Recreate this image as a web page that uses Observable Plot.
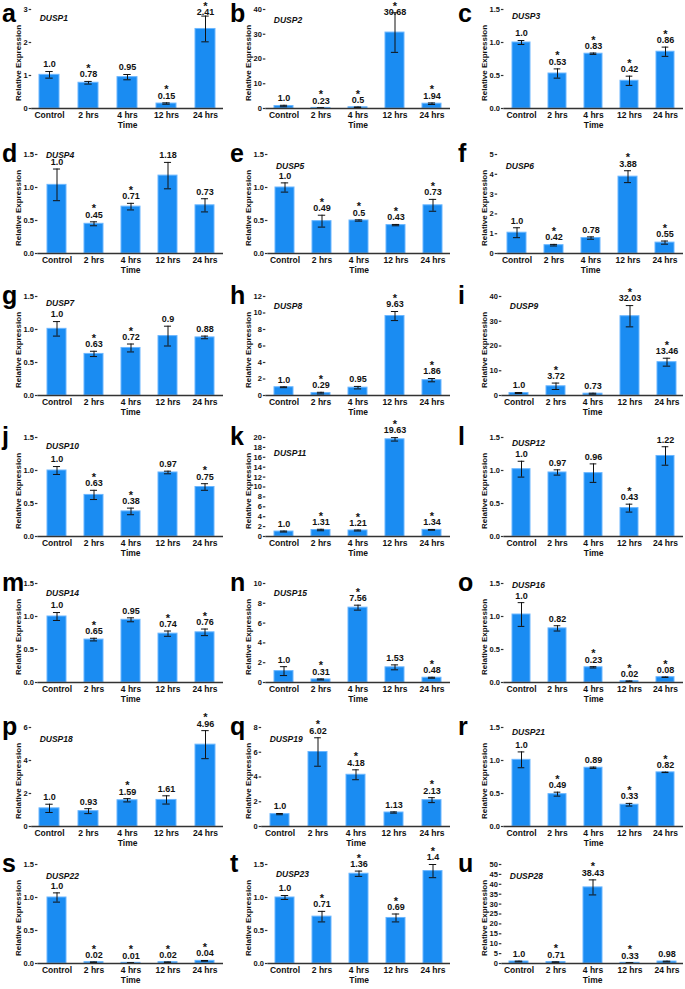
<!DOCTYPE html>
<html>
<head>
<meta charset="utf-8">
<script src="https://cdn.jsdelivr.net/npm/d3@7"></script>
<script src="https://cdn.jsdelivr.net/npm/@observablehq/plot@0.6"></script>
<style>
  html, body { margin: 0; padding: 0; background: #fff; }
  #root { position: relative; width: 685px; height: 989px; overflow: hidden; font-family: "Liberation Sans", Arial, sans-serif; }
  .panel { position: absolute; }
  .letter { position: absolute; font: bold 25px "Liberation Sans", Arial, sans-serif; line-height: 1.05; color: #000; }
</style>
</head>
<body>
<div id="root"></div>
<script>
// ---------- data ----------
const categories = ["Control", "2 hrs", "4 hrs", "12 hrs", "24 hrs"];
const panelLetters = ["a","b","c","d","e","f","g","h","i","j","k","l","m","n","o","p","q","r","s","t","u"];
const genes = ["DUSP1","DUSP2","DUSP3","DUSP4","DUSP5","DUSP6","DUSP7","DUSP8","DUSP9","DUSP10","DUSP11",
               "DUSP12","DUSP14","DUSP15","DUSP16","DUSP18","DUSP19","DUSP21","DUSP22","DUSP23","DUSP28"];
const means = [
  [1.02, 0.78, 0.95, 0.15, 2.41],
  [1.0, 0.23, 0.5, 30.68, 1.94],
  [1.0, 0.53, 0.83, 0.42, 0.86],
  [1.04, 0.45, 0.71, 1.18, 0.73],
  [1.0, 0.49, 0.5, 0.43, 0.73],
  [1.05, 0.42, 0.78, 3.88, 0.55],
  [1.01, 0.63, 0.72, 0.9, 0.88],
  [1.0, 0.29, 0.95, 9.63, 1.86],
  [1.0, 3.72, 0.73, 32.03, 13.46],
  [1.0, 0.63, 0.38, 0.97, 0.75],
  [1.0, 1.31, 1.21, 19.63, 1.34],
  [1.02, 0.97, 0.96, 0.43, 1.22],
  [1.0, 0.65, 0.95, 0.74, 0.76],
  [1.15, 0.31, 7.56, 1.53, 0.48],
  [1.03, 0.82, 0.23, 0.02, 0.08],
  [1.1, 0.93, 1.59, 1.61, 4.96],
  [1.0, 6.02, 4.18, 1.13, 2.13],
  [1.01, 0.49, 0.89, 0.33, 0.82],
  [1.0, 0.02, 0.01, 0.02, 0.04],
  [1.0, 0.71, 1.36, 0.69, 1.4],
  [1.0, 0.71, 38.43, 0.33, 0.98]
];
const errors = [
  [0.1, 0.04, 0.08, 0.02, 0.39],
  [0.3, 0.05, 0.1, 8.0, 0.3],
  [0.03, 0.07, 0.01, 0.07, 0.07],
  [0.24, 0.03, 0.05, 0.2, 0.1],
  [0.07, 0.09, 0.01, 0.01, 0.09],
  [0.25, 0.04, 0.06, 0.3, 0.08],
  [0.11, 0.04, 0.06, 0.15, 0.02],
  [0.05, 0.1, 0.15, 0.55, 0.2],
  [0.2, 1.3, 0.2, 4.3, 1.6],
  [0.06, 0.07, 0.05, 0.02, 0.05],
  [0.1, 0.15, 0.1, 0.35, 0.08],
  [0.12, 0.04, 0.14, 0.06, 0.14],
  [0.06, 0.02, 0.03, 0.04, 0.05],
  [0.45, 0.05, 0.25, 0.25, 0.05],
  [0.18, 0.04, 0.01, 0.003, 0.003],
  [0.25, 0.15, 0.1, 0.25, 0.85],
  [0.05, 1.15, 0.4, 0.05, 0.2],
  [0.12, 0.03, 0.01, 0.02, 0.003],
  [0.07, 0.003, 0.002, 0.003, 0.005],
  [0.03, 0.08, 0.04, 0.06, 0.1],
  [0.2, 0.1, 3.8, 0.05, 0.2]
];
const valueLabels = [
  ["1.0","0.78","0.95","0.15","2.41"],
  ["1.0","0.23","0.5","30.68","1.94"],
  ["1.0","0.53","0.83","0.42","0.86"],
  ["1.0","0.45","0.71","1.18","0.73"],
  ["1.0","0.49","0.5","0.43","0.73"],
  ["1.0","0.42","0.78","3.88","0.55"],
  ["1.0","0.63","0.72","0.9","0.88"],
  ["1.0","0.29","0.95","9.63","1.86"],
  ["1.0","3.72","0.73","32.03","13.46"],
  ["1.0","0.63","0.38","0.97","0.75"],
  ["1.0","1.31","1.21","19.63","1.34"],
  ["1.0","0.97","0.96","0.43","1.22"],
  ["1.0","0.65","0.95","0.74","0.76"],
  ["1.0","0.31","7.56","1.53","0.48"],
  ["1.0","0.82","0.23","0.02","0.08"],
  ["1.0","0.93","1.59","1.61","4.96"],
  ["1.0","6.02","4.18","1.13","2.13"],
  ["1.0","0.49","0.89","0.33","0.82"],
  ["1.0","0.02","0.01","0.02","0.04"],
  ["1.0","0.71","1.36","0.69","1.4"],
  ["1.0","0.71","38.43","0.33","0.98"]
];
const significant = [
  [0,1,0,1,1],[0,1,1,1,1],[0,1,1,1,1],
  [0,1,1,0,0],[0,1,1,1,1],[0,1,0,1,1],
  [0,1,1,0,0],[0,1,0,1,1],[0,1,0,1,1],
  [0,1,1,0,1],[0,1,1,1,1],[0,0,0,1,0],
  [0,1,0,1,1],[0,1,1,0,1],[0,0,1,1,1],
  [0,0,1,0,1],[0,1,1,0,1],[0,1,0,1,1],
  [0,1,1,1,1],[0,1,1,1,1],[0,1,1,1,0]
];
const yMax  = [3, 40, 1.5, 1.5, 1.5, 5, 1.5, 12, 40, 1.5, 20, 1.5, 1.5, 10, 1.5, 6, 8, 1.5, 1.5, 1.5, 50];
const yStep = [1, 10, 0.5, 0.5, 0.5, 1, 0.5, 2, 10, 0.5, 2, 0.5, 0.5, 2, 0.5, 2, 2, 0.5, 0.5, 0.5, 5];
const yAxisTitle = "Relative Expression";
const xAxisTitle = "Time";

// ---------- layout ----------
const rowZeroY = [108, 253, 395, 536, 682, 826, 963];
const plotH = 99;
const colLeft = [0, 228, 455];
const colYLabelX = [18, 248, 484];
const colRightX = [223, 450, 683];
const letterX = [2, 230, 458];
const geneDy = [9, 11, 7, 1, 12, 12, 7, 10, 10, 9, 16, 6, 10, 10, 2, 12, 12, 5, 12, 10, 12];
const mTop = 16, mBottom = 32;
const tickFs = 7.5, tickSize = 2.5, tickPad = 1.5;
const barFill = "#1a8cf2";
const barStroke = "#6ab6ff";
const ink = "#111";

const root = document.getElementById("root");

function tickLabelWidth(ticks, fmt, fs) {
  let w = 0;
  for (const t of ticks) {
    let ww = 0;
    for (const ch of fmt(t)) ww += (ch === "." ? 0.278 : 0.556) * fs;
    w = Math.max(w, ww);
  }
  return w;
}

genes.forEach((gene, k) => {
  const row = Math.floor(k / 3), col = k % 3;
  const ticks = d3.range(0, yMax[k] + yStep[k] / 2, yStep[k]);
  const fmt = yStep[k] < 1 ? d3.format(".1f") : d3.format("d");
  const tw = tickLabelWidth(ticks, fmt, tickFs);

  const left = colLeft[col];
  const axisX = colYLabelX[col] + 9 + tw;
  const width = colRightX[col] - left + 2;
  const marginLeft = axisX - left;
  const top = rowZeroY[row] - plotH - mTop;
  const height = mTop + plotH + mBottom;
  const yLabelOffset = axisX - colYLabelX[col];

  const px = plotH / yMax[k];               // pixels per unit
  const frameTopPage = rowZeroY[row] - plotH;
  const astCap = yMax[k] + (frameTopPage - 6) / px;

  const data = categories.map((c, i) => {
    const errTop = means[k][i] + errors[k][i];
    const sig = significant[k][i] === 1;
    const astY = Math.min(errTop + 13 / px, astCap);
    const labY = sig ? Math.min(errTop + 7 / px, astY - 6 / px) : errTop + 7 / px;
    return { cat: c, mean: means[k][i], err: errors[k][i], errTop, astY, labY,
             label: valueLabels[k][i], sig };
  });

  const band = d3.scaleBand().domain(categories)
    .range([marginLeft, width - 2]).paddingInner(0.5).paddingOuter(0.2);
  const bw = band.bandwidth();
  const cap = 7;
  const inset = (bw - cap) / 2;

  const chart = Plot.plot({
    width, height,
    marginLeft, marginRight: 2, marginTop: mTop, marginBottom: mBottom,
    style: { background: "transparent", overflow: "visible", fontFamily: "'Liberation Sans', Arial, sans-serif", fontWeight: "bold", color: ink },
    x: { domain: categories, paddingInner: 0.5, paddingOuter: 0.2, label: null },
    y: { domain: [0, yMax[k]], label: null },
    marks: [
      Plot.barY(data, { x: "cat", y: "mean", fill: barFill, stroke: barStroke, strokeWidth: 1 }),
      Plot.ruleX(data, { x: "cat", y1: d => Math.max(0, d.mean - d.err), y2: "errTop", stroke: ink, strokeWidth: 1 }),
      Plot.tickY(data, { x: "cat", y: "errTop", stroke: ink, strokeWidth: 1, insetLeft: inset, insetRight: inset }),
      Plot.tickY(data, { x: "cat", y: d => Math.max(0, d.mean - d.err), stroke: ink, strokeWidth: 1, insetLeft: inset, insetRight: inset }),
      Plot.text(data, { x: "cat", y: "labY", text: "label", fontSize: 9, fontWeight: "bold", fill: ink }),
      Plot.text(data.filter(d => d.sig), { x: "cat", y: "astY", text: () => "*", fontSize: 11, fontWeight: "bold", fill: ink }),
      Plot.ruleY([0], { stroke: "#333", strokeWidth: 1.5 }),
      Plot.axisY({ ticks, tickFormat: fmt, tickSize, tickPadding: tickPad, fontSize: tickFs, fontWeight: "bold", stroke: "#333", strokeWidth: 1.2, line: true, label: null }),
      Plot.axisX({ tickSize: 0, tickPadding: 3, fontSize: 8.5, fontWeight: "bold", label: null }),
      Plot.text([xAxisTitle], { frameAnchor: "bottom", dy: 19, fontSize: 8.5, fontWeight: "bold", fill: ink }),
      Plot.text([yAxisTitle], { frameAnchor: "left", dx: -yLabelOffset, dy: 4, rotate: -90, textAnchor: "middle", lineAnchor: "middle", fontSize: 8, fontWeight: "bold", fill: ink }),
      Plot.text([gene], { frameAnchor: "top-left", dx: 8, dy: geneDy[k], textAnchor: "start", lineAnchor: "middle", fontSize: 8.5, fontWeight: "bold", fontStyle: "italic", fill: ink })
    ]
  });

  const div = document.createElement("div");
  div.className = "panel";
  div.style.left = left + "px";
  div.style.top = top + "px";
  div.appendChild(chart);
  root.appendChild(div);

  const lt = document.createElement("div");
  lt.className = "letter";
  lt.textContent = panelLetters[k];
  lt.style.left = letterX[col] + "px";
  lt.style.top = Math.max(frameTopPage - 14, 0) + "px";
  root.appendChild(lt);
});
</script>
</body>
</html>
